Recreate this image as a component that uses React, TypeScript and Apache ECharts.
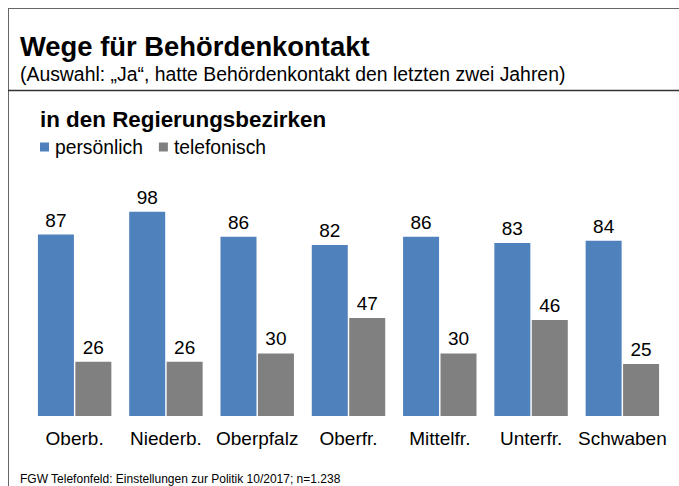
import React, { useEffect, useRef } from "react";
import * as echarts from "echarts";

const categories = ["Oberb.", "Niederb.", "Oberpfalz", "Oberfr.", "Mittelfr.", "Unterfr.", "Schwaben"];
const persoenlich = [87, 98, 86, 82, 86, 83, 84];
const telefonisch = [26, 26, 30, 47, 30, 46, 25];
const seriesNames = ["persönlich", "telefonisch"];

const TITLE = "Wege für Behördenkontakt";
const SUBTITLE = "(Auswahl: „Ja“, hatte Behördenkontakt den letzten zwei Jahren)";
const SECTION = "in den Regierungsbezirken";
const SOURCE = "FGW Telefonfeld: Einstellungen zur Politik 10/2017; n=1.238";

const FONT = "Liberation Sans, Arial, Helvetica, sans-serif";
const BLUE = "#4F81BD";
const GRAY = "#808080";

export default function App() {
  const ref = useRef<HTMLDivElement>(null);
  useEffect(() => {
    if (!ref.current) return;
    const chart = echarts.init(ref.current, undefined, { renderer: "svg" });
    const label = {
      show: true,
      position: "top",
      distance: 5,
      color: "#000",
      fontSize: 19,
      fontFamily: FONT,
    };
    chart.setOption({
      animation: false,
      backgroundColor: "#fff",
      textStyle: { fontFamily: FONT },
      grid: { left: 29, right: 11, top: 207.5, bottom: 70 },
      legend: {
        data: seriesNames,
        left: 40,
        top: 137.5,
        padding: 0,
        itemWidth: 9,
        itemHeight: 9,
        itemGap: 16,
        icon: "rect",
        textStyle: { fontSize: 19.3, color: "#000", fontFamily: FONT, padding: [0, 0, 0, 1] },
      },
      xAxis: {
        type: "category",
        data: categories,
        axisLine: { show: false },
        axisTick: { show: false },
        axisLabel: { color: "#000", fontSize: 19, fontFamily: FONT, margin: 13, interval: 0 },
      },
      yAxis: {
        type: "value",
        min: 0,
        max: 100,
        show: false,
        splitLine: { show: false },
      },
      series: [
        {
          name: seriesNames[0],
          type: "bar",
          data: persoenlich,
          barWidth: 36,
          barGap: "4%",
          itemStyle: { color: BLUE },
          label,
        },
        {
          name: seriesNames[1],
          type: "bar",
          data: telefonisch,
          barWidth: 36,
          itemStyle: { color: GRAY },
          label,
        },
      ],
      graphic: [
        { type: "line", shape: { x1: 8, y1: 8.5, x2: 679, y2: 8.5 }, style: { stroke: "#666", lineWidth: 1 } },
        { type: "line", shape: { x1: 8.5, y1: 8, x2: 8.5, y2: 486 }, style: { stroke: "#666", lineWidth: 1 } },
        { type: "line", shape: { x1: 8, y1: 90.5, x2: 679, y2: 90.5 }, style: { stroke: "#333", lineWidth: 1.3 } },
        {
          type: "text",
          left: 20,
          top: 46.5 - 13.7,
          style: { text: TITLE, font: `bold 27.4px ${FONT}`, fill: "#000" },
        },
        {
          type: "text",
          left: 20,
          top: 74.5 - 9.7,
          style: { text: SUBTITLE, font: `19.4px ${FONT}`, fill: "#000" },
        },
        {
          type: "text",
          left: 40,
          top: 119 - 11,
          style: { text: SECTION, font: `bold 22.4px ${FONT}`, fill: "#000" },
        },
        {
          type: "text",
          left: 20,
          top: 478.5 - 6,
          style: { text: SOURCE, font: `12px ${FONT}`, fill: "#000" },
        },
      ],
    });
    return () => chart.dispose();
  }, []);
  return (
    <div
      ref={ref}
      style={{ position: "fixed", left: 0, top: 0, width: 679, height: 486 }}
    />
  );
}
